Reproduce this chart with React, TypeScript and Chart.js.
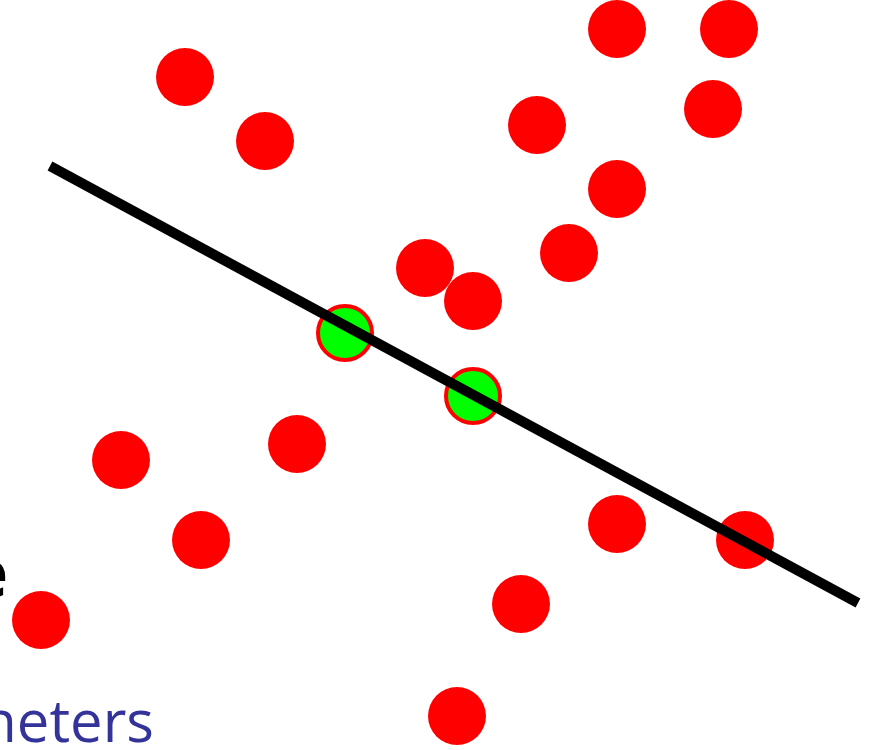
import React, { useEffect, useRef } from "react";
import { Chart, registerables } from "chart.js";

Chart.register(...registerables);

// Outlier / data points (red)
const redX = [617, 729, 185, 713, 537, 265, 617, 569, 425, 473, 297, 121, 617, 745, 201, 521, 41, 457];
const redY = [29, 29, 77, 109, 125, 141, 189, 253, 268, 301, 444, 460, 524, 540, 540, 604, 620, 716];
// Sampled points (green)
const greenX = [345, 473];
const greenY = [333, 396];
// Fitted line endpoints
const lineX = [50, 858];
const lineY = [166, 603];

const textLabels = ["e", "neters"];

export default function App() {
  const ref = useRef<HTMLCanvasElement | null>(null);
  useEffect(() => {
    document.body.style.margin = "0";
    const canvas = ref.current!;
    const textPlugin = {
      id: "slideText",
      afterDraw(chart: any) {
        const ctx = chart.ctx;
        ctx.save();
        ctx.fillStyle = "#000000";
        ctx.font = "bold 66px 'Open Sans'";
        ctx.textAlign = "right";
        ctx.textBaseline = "alphabetic";
        ctx.fillText(textLabels[0], 8, 597);
        ctx.fillStyle = "#333399";
        ctx.font = "58px 'Open Sans'";
        ctx.textAlign = "right";
        ctx.fillText(textLabels[1], 154, 742);
        ctx.restore();
      },
    };
    const chart = new Chart(canvas, {
      type: "scatter",
      data: {
        datasets: [
          {
            type: "line",
            data: lineX.map((x, i) => ({ x, y: lineY[i] })),
            borderColor: "#000000",
            borderWidth: 10,
            borderCapStyle: "butt",
            pointRadius: 0,
            fill: false,
            clip: false,
            order: 0,
          } as any,
          {
            data: greenX.map((x, i) => ({ x, y: greenY[i] })),
            backgroundColor: "#00ff00",
            borderColor: "#ff0000",
            borderWidth: 4,
            pointRadius: 27,
            clip: false,
            order: 1,
          },
          {
            data: redX.map((x, i) => ({ x, y: redY[i] })),
            backgroundColor: "#ff0000",
            borderWidth: 0,
            pointRadius: 29,
            clip: false,
            order: 2,
          },
        ],
      },
      options: {
        animation: false,
        responsive: false,
        maintainAspectRatio: false,
        layout: { padding: 0, autoPadding: false },
        plugins: { legend: { display: false }, tooltip: { enabled: false } },
        scales: {
          x: { type: "linear", min: 0, max: 870, display: false },
          y: { type: "linear", min: 0, max: 750, reverse: true, display: false },
        },
      },
      plugins: [textPlugin],
    } as any);
    return () => chart.destroy();
  }, []);
  return (
    <div style={{ position: "absolute", left: 0, top: 0, width: 870, height: 750, background: "#fff" }}>
      <canvas ref={ref} width={870} height={750} />
    </div>
  );
}
